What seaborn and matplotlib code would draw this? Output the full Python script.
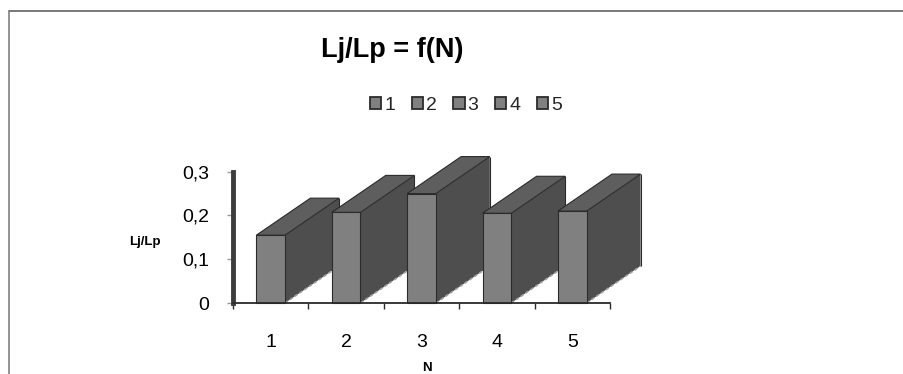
import matplotlib
matplotlib.use("Agg")
import matplotlib.pyplot as plt
import seaborn as sns
import pandas as pd
from matplotlib.patches import Polygon, Rectangle
from matplotlib.lines import Line2D

# Lj/Lp ratio for each N
categories = ["1", "2", "3", "4", "5"]
ratios = [0.155, 0.207, 0.25, 0.205, 0.21]
y_ticks = [0, 0.1, 0.2, 0.3]
y_tick_labels = ["0", "0,1", "0,2", "0,3"]
legend_labels = ["1", "2", "3", "4", "5"]

FRONT = "#808080"
SIDE = "#4e4e4e"
TOP = "#5e5e5e"
EDGE = "#2b2b2b"

sns.set_theme(style="white")
plt.rcParams["font.family"] = ["Liberation Sans", "DejaVu Sans"]

W, H = 904, 374
fig = plt.figure(figsize=(W / 100, H / 100), dpi=100)
fig.patch.set_facecolor("white")

# plot area in pixel terms
ax_left, ax_right, ax_bottom, ax_top = 233, 610, 303, 171.7
ax = fig.add_axes([ax_left / W, (H - ax_bottom) / H,
                   (ax_right - ax_left) / W, (ax_bottom - ax_top) / H])
ax.set_facecolor("none")

df = pd.DataFrame({"N": categories, "ratio": ratios})
sns.barplot(data=df, x="N", y="ratio", hue="N", palette=[FRONT] * len(categories),
            dodge=False, width=0.38, saturation=1, legend=False, ax=ax,
            edgecolor=EDGE, linewidth=0.8)

ax.set_xlim(-0.5, len(categories) - 0.5)
ax.set_ylim(0, 0.3)

# depth of the 3-D blocks (pixels -> data units)
dx_px, dy_px = 54, 37
x_per_px = len(categories) / (ax_right - ax_left)
y_per_px = 0.3 / (ax_bottom - ax_top)
dx, dy = dx_px * x_per_px, dy_px * y_per_px

bars = sorted(ax.patches, key=lambda p: p.get_x())
for i, p in enumerate(bars):
    x0, w, h = p.get_x(), p.get_width(), p.get_height()
    z = 3 + i
    side = Polygon([(x0 + w, 0), (x0 + w + dx, dy), (x0 + w + dx, h + dy), (x0 + w, h)],
                   closed=True, facecolor=SIDE, edgecolor="none", clip_on=False, zorder=z)
    top = Polygon([(x0, h), (x0 + dx, h + dy), (x0 + w + dx, h + dy), (x0 + w, h)],
                  closed=True, facecolor=TOP, edgecolor=EDGE, linewidth=0.8,
                  clip_on=False, zorder=z + 0.1)
    ax.add_patch(side)
    ax.add_patch(top)
    ax.plot([x0 + w + dx, x0 + w + dx], [dy, h + dy], color=EDGE, lw=0.8,
            clip_on=False, zorder=z + 0.1, solid_capstyle="butt")
    ax.plot([x0 + w, x0 + w + dx], [0, dy], color="#a0a0a0", lw=1.2,
            linestyle=(0, (2, 1.5)), clip_on=False, zorder=z + 0.15)
    p.set_zorder(z + 0.2)
    p.set_clip_on(False)

# axes styling
for s in ["top", "right"]:
    ax.spines[s].set_visible(False)
ax.spines["left"].set_linewidth(3.5)
ax.spines["left"].set_color("#3d3d3d")
ax.spines["left"].set_zorder(10)
ax.spines["bottom"].set_linewidth(1.3)
ax.spines["bottom"].set_color("#2a2a2a")
ax.spines["bottom"].set_zorder(10)

ax.set_yticks(y_ticks)
ax.set_yticklabels(y_tick_labels)
ax.tick_params(axis="y", left=True, length=4, width=1, color="#9a9a9a",
               labelsize=14, pad=13, labelcolor="black")
ax.set_xticks(range(len(categories)))
ax.set_xticklabels(categories)
ax.tick_params(axis="x", which="major", bottom=False, length=0, labelsize=14,
               pad=22, labelcolor="black")
ax.set_xticks([i - 0.5 for i in range(len(categories) + 1)], minor=True)
ax.tick_params(axis="x", which="minor", bottom=True, length=4, width=1,
               color="#2a2a2a", direction="out")
ax.grid(False)

ax.set_xlabel("N", fontsize=9.5, fontweight="bold", color="black")
ax.xaxis.set_label_coords((427 - ax_left) / (ax_right - ax_left),
                          (ax_bottom - 368) / (ax_bottom - ax_top))
ax.xaxis.label.set_va("center")
ax.set_ylabel("Lj/Lp", fontsize=9.5, fontweight="bold", rotation=0,
              color="black", ha="center", va="center")
ax.yaxis.set_label_coords((145 - ax_left) / (ax_right - ax_left),
                          (ax_bottom - 242) / (ax_bottom - ax_top))

# title
fig.text(392.5 / W, 1 - 57 / H, "Lj/Lp = f(N)", fontsize=19.5, fontweight="bold",
         ha="center", va="baseline", color="black")

# legend: one square per series
handles = [Rectangle((0, 0), 1, 1, facecolor=FRONT, edgecolor=EDGE, linewidth=1.3)
           for _ in legend_labels]
fig.legend(handles, legend_labels, ncol=5, loc="center",
           bbox_to_anchor=(466 / W, 1 - 105 / H), frameon=False, fontsize=14,
           handlelength=0.58, handleheight=0.58, handletextpad=0.15,
           columnspacing=0.85, borderaxespad=0, borderpad=0)

# chart frame (top and left edges)
fig.add_artist(Line2D([9 / W, 1], [1 - 11 / H, 1 - 11 / H], transform=fig.transFigure,
                      color="#555555", lw=1.1))
fig.add_artist(Line2D([9 / W, 9 / W], [0, 1 - 11 / H], transform=fig.transFigure,
                      color="#777777", lw=1.1))

fig.savefig("out.png", dpi=100, facecolor="white")
